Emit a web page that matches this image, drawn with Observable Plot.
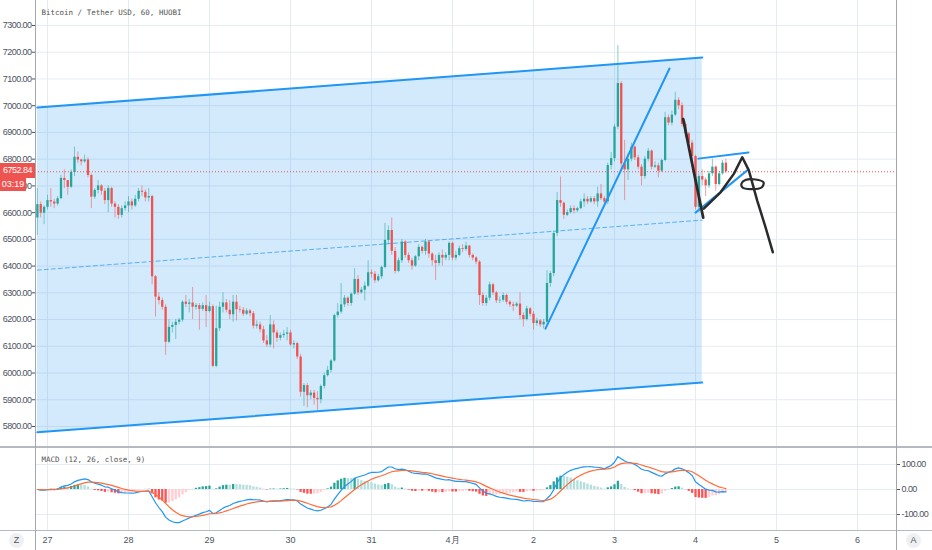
<!DOCTYPE html>
<html><head><meta charset="utf-8">
<script src="https://cdn.jsdelivr.net/npm/d3@7"></script>
<script src="https://cdn.jsdelivr.net/npm/@observablehq/plot@0.6"></script>
<style>
body{margin:0;background:#fff;}
#wrap{position:relative;width:932px;height:550px;overflow:hidden;font-family:"Liberation Sans",Arial,sans-serif;}
#wrap svg{display:block;}
.abs{position:absolute;}
</style></head><body><div id="wrap"></div>
<script>
// ---------- data ----------
const title = "Bitcoin / Tether USD, 60, HUOBI";
const macdTitle = "MACD (12, 26, close, 9)";
const firstCandle = "2020-03-26T21:00:00Z"; // hourly candles
const opens = [
6580,6630,6598,6620,6645,6640,6632,6652,6728,6720,
6695,6750,6807,6797,6790,6797,6739,6658,6683,6700,
6680,6645,6690,6632,6620,6590,6615,6625,6640,6625,
6650,6680,6676,6655,6660,6360,6284,6271,6246,6115,
6171,6178,6190,6198,6265,6257,6262,6246,6252,6238,
6252,6230,6248,6025,6166,6246,6262,6235,6218,6265,
6237,6235,6220,6232,6222,6175,6180,6162,6120,6105,
6180,6150,6130,6140,6145,6150,6105,6110,6060,5928,
5953,5915,5925,5905,5900,5950,5990,6010,6045,6215,
6228,6255,6280,6260,6295,6350,6300,6310,6325,6375,
6370,6345,6360,6395,6496,6533,6455,6380,6420,6490,
6440,6420,6400,6435,6470,6455,6490,6445,6420,6410,
6440,6430,6440,6485,6430,6440,6465,6462,6475,6440,
6430,6415,6290,6260,6280,6330,6300,6270,6272,6290,
6265,6255,6250,6258,6215,6200,6240,6220,6185,6195,
6180,6190,6335,6372,6522,6645,6635,6590,6600,6615,
6607,6615,6640,6650,6640,6652,6640,6670,6652,6640,
6776,6802,6920,7083,6782,6760,6800,6845,6805,6770,
6735,6800,6830,6770,6775,6755,6795,6955,6935,6965,
7020,7000,6930,6895,6860,6810,6620,6735,6722,6700,
6745,6770,6705,6745,6785];
const highs = [
6690,6640,6625,6665,6690,6650,6660,6740,6760,6720,
6760,6845,6827,6800,6815,6805,6745,6690,6720,6705,
6690,6700,6695,6640,6630,6625,6640,6660,6650,6665,
6690,6700,6685,6690,6665,6365,6300,6280,6255,6200,
6190,6200,6205,6270,6290,6275,6320,6260,6260,6262,
6290,6265,6255,6250,6265,6300,6275,6270,6290,6290,
6250,6245,6240,6238,6230,6195,6190,6175,6140,6215,
6195,6160,6150,6160,6170,6160,6120,6115,6070,5960,
5960,5935,5935,5930,5955,6000,6025,6050,6220,6260,
6335,6290,6285,6300,6390,6365,6320,6340,6420,6385,
6380,6370,6400,6560,6550,6580,6470,6430,6500,6495,
6450,6430,6440,6480,6475,6500,6495,6450,6440,6450,
6460,6450,6490,6490,6455,6475,6480,6490,6478,6445,
6435,6420,6300,6290,6340,6335,6305,6285,6300,6295,
6270,6265,6265,6300,6225,6250,6245,6230,6205,6200,
6200,6383,6380,6530,6675,6733,6640,6610,6625,6625,
6620,6650,6670,6660,6660,6660,6695,6705,6660,6785,
6825,6930,7225,7090,6870,6820,6860,6850,6815,6780,
6810,6840,6835,6790,6785,6800,6975,6965,6980,7050,
7030,7010,6940,6900,6870,6815,6745,6760,6730,6755,
6800,6775,6755,6795,6800];
const lows = [
6515,6580,6555,6610,6620,6615,6625,6650,6690,6665,
6690,6735,6785,6775,6785,6730,6615,6650,6670,6665,
6630,6600,6620,6580,6575,6580,6605,6600,6610,6620,
6640,6660,6640,6640,6330,6209,6255,6235,6066,6110,
6150,6125,6180,6190,6245,6225,6200,6235,6160,6230,
6170,6225,6020,6020,6155,6225,6225,6200,6190,6195,
6225,6212,6215,6210,6165,6165,6150,6110,6095,6095,
6090,6115,6120,6130,6120,6100,6090,6050,5910,5875,
5870,5900,5880,5860,5885,5940,5985,6000,6040,6205,
6220,6245,6250,6250,6290,6290,6295,6270,6320,6355,
6335,6340,6350,6390,6480,6440,6370,6375,6410,6430,
6410,6385,6395,6420,6445,6440,6430,6400,6346,6400,
6400,6420,6420,6420,6420,6435,6450,6455,6430,6420,
6405,6253,6250,6250,6270,6290,6260,6260,6265,6255,
6245,6230,6245,6200,6172,6195,6210,6160,6175,6170,
6165,6180,6320,6360,6510,6620,6575,6585,6595,6595,
6600,6610,6620,6630,6635,6630,6620,6645,6630,6630,
6760,6790,6910,6760,6645,6720,6790,6795,6760,6700,
6725,6790,6760,6765,6730,6750,6790,6925,6925,6960,
6985,6920,6880,6840,6790,6610,6600,6700,6660,6690,
6735,6680,6700,6740,6745];
const closes = [
6630,6598,6620,6645,6640,6632,6652,6728,6720,6695,
6750,6807,6797,6790,6797,6739,6658,6683,6700,6680,
6645,6690,6632,6620,6590,6615,6625,6640,6625,6650,
6680,6676,6655,6660,6360,6284,6271,6246,6115,6171,
6178,6190,6198,6265,6257,6262,6246,6252,6238,6252,
6230,6248,6025,6166,6246,6262,6235,6218,6265,6237,
6235,6220,6232,6222,6175,6180,6162,6120,6105,6180,
6150,6130,6140,6145,6150,6105,6110,6060,5928,5953,
5915,5925,5905,5900,5950,5990,6010,6045,6215,6228,
6255,6280,6260,6295,6350,6300,6310,6325,6375,6370,
6345,6360,6395,6496,6533,6455,6380,6420,6490,6440,
6420,6400,6435,6470,6455,6490,6445,6420,6410,6440,
6430,6440,6485,6430,6440,6465,6462,6475,6440,6430,
6415,6290,6260,6280,6330,6300,6270,6272,6290,6265,
6255,6250,6258,6215,6200,6240,6220,6185,6195,6180,
6190,6335,6372,6522,6645,6635,6590,6600,6615,6607,
6615,6640,6650,6640,6652,6640,6670,6652,6640,6776,
6802,6920,7083,6782,6760,6800,6845,6805,6770,6735,
6800,6830,6770,6775,6755,6795,6955,6935,6965,7020,
7000,6930,6895,6860,6810,6620,6735,6722,6700,6745,
6770,6705,6745,6785,6752.84];
const countdown = "03:19";

// price axis ticks & date ticks
const priceTicks = [5800,5900,6000,6100,6200,6300,6400,6500,6600,6700,6800,6900,7000,7100,7200,7300];
const macdTicks = [-100, 0, 100];
const dayTickDates = ["2020-03-27","2020-03-28","2020-03-29","2020-03-30","2020-03-31","2020-04-01","2020-04-02","2020-04-03","2020-04-04","2020-04-05","2020-04-06"];
const dayLabels = ["27","28","29","30","31","4月","2","3","4","5","6"];
const viewRange = ["2020-03-26T20:27:00Z","2020-04-06T11:33:00Z"];

// drawings
const channelTimes = ["2020-03-26T21:00:00Z","2020-04-04T02:00:00Z"];
const channelUpper = [6993, 7180];
const channelLower = [5778, 5965];
const channelMid = [6385, 6572];
const riseTimes = ["2020-04-02T03:33:00Z","2020-04-03T16:18:00Z"];
const risePrices = [6166, 7139];
const triUpperTimes = ["2020-04-04T00:53:00Z","2020-04-04T15:42:00Z"];
const triUpperPrices = [6802, 6825];
const triLowerTimes = ["2020-04-04T00:00:00Z","2020-04-04T15:19:00Z"];
const triLowerPrices = [6600, 6758];
const pen1Times = ["2020-04-03T20:21:00Z","2020-04-03T23:01:00Z","2020-04-04T02:17:00Z"];
const pen1Prices = [6950, 6783, 6581];
const pen2Times = ["2020-04-04T02:27:00Z","2020-04-04T07:25:00Z","2020-04-04T11:21:00Z","2020-04-04T13:51:00Z","2020-04-04T15:48:00Z","2020-04-04T18:17:00Z","2020-04-04T20:44:00Z","2020-04-04T22:54:00Z"];
const pen2Prices = [6615, 6676, 6745, 6807, 6758, 6645, 6546, 6452];
const loopTimes = ["2020-04-04T13:38:00Z","2020-04-04T14:48:00Z","2020-04-04T17:47:00Z","2020-04-04T20:10:00Z","2020-04-04T19:34:00Z","2020-04-04T16:18:00Z","2020-04-04T13:55:00Z"];
const loopPrices = [6709, 6722, 6724, 6713, 6694, 6688, 6694];

// ---------- build ----------
const UP = "#26a69a", DOWN = "#ef5350", BLUE = "#2196f3", GRID = "#e6ebf2";
const t0 = new Date(firstCandle);
const candles = closes.map((c, i) => ({
  t: new Date(+t0 + i * 3600e3), o: opens[i], h: highs[i], l: lows[i], c,
  col: c >= opens[i] ? UP : DOWN
}));
const pts = (ts, ps) => ts.map((t, i) => ({t: new Date(t), p: ps[i]}));
const channel = channelTimes.map((t, i) => ({t: new Date(t), hi: channelUpper[i], lo: channelLower[i], mid: channelMid[i]}));
const dayTicks = dayTickDates.map(d => new Date(d + "T00:00:00Z"));
const labelMap = new Map(dayTicks.map((d, i) => [+d, dayLabels[i]]));
const xDomain = viewRange.map(d => new Date(d));
const last = candles[candles.length - 1];

// MACD(12, 26, close, 9) from closes
function ema(arr, n) { const k = 2 / (n + 1); let prev = arr[0]; return arr.map(v => (prev = v * k + prev * (1 - k))); }
const e12 = ema(closes, 12), e26 = ema(closes, 26);
const macd = e12.map((v, i) => v - e26[i]);
const signal = ema(macd, 9);
const macdData = candles.map((d, i) => {
  const h = macd[i] - signal[i];
  const ph = i ? macd[i - 1] - signal[i - 1] : h;
  const col = h >= 0 ? (h >= ph ? "#26a69a" : "#b2dfdb") : (h <= ph ? "#ff5252" : "#ffcdd2");
  return {t: d.t, m: macd[i], s: signal[i], h, col};
});

const font = "'Liberation Sans',Arial,sans-serif";
const mono = "'DejaVu Sans Mono','Liberation Mono',monospace";

const main = Plot.plot({
  width: 932, height: 447,
  marginLeft: 35, marginRight: 36, marginTop: 0, marginBottom: 0,
  style: {fontFamily: font, fontSize: "9px", color: "#4c525e", background: "transparent", overflow: "visible"},
  x: {type: "utc", domain: xDomain, axis: null},
  y: {domain: [5721.4, 7393.5], ticks: priceTicks, tickFormat: d => d.toFixed(2), tickSize: 3, tickPadding: 1, label: null},
  color: {type: "identity"},
  marks: [
    Plot.ruleY(priceTicks, {stroke: GRID, strokeWidth: 1}),
    Plot.ruleX(dayTicks, {stroke: GRID, strokeWidth: 1}),
    Plot.areaY(channel, {x: "t", y1: "lo", y2: "hi", fill: BLUE, fillOpacity: 0.2}),
    Plot.line(channel, {x: "t", y: "hi", stroke: BLUE, strokeWidth: 2}),
    Plot.line(channel, {x: "t", y: "lo", stroke: BLUE, strokeWidth: 2}),
    Plot.line(channel, {x: "t", y: "mid", stroke: BLUE, strokeWidth: 1, strokeDasharray: "4,3", strokeOpacity: 0.7}),
    Plot.ruleX(candles, {x: "t", y1: "l", y2: "h", stroke: "col", strokeWidth: 1, strokeOpacity: 0.55}),
    Plot.ruleX(candles, {x: "t", y1: "o", y2: "c", stroke: "col", strokeWidth: 2.3}),
    Plot.ruleY([last.c], {stroke: DOWN, strokeWidth: 1, strokeDasharray: "1,2"}),
    Plot.line(pts(riseTimes, risePrices), {x: "t", y: "p", stroke: BLUE, strokeWidth: 2}),
    Plot.line(pts(triUpperTimes, triUpperPrices), {x: "t", y: "p", stroke: BLUE, strokeWidth: 2}),
    Plot.line(pts(triLowerTimes, triLowerPrices), {x: "t", y: "p", stroke: BLUE, strokeWidth: 2}),
    Plot.line(pts(pen1Times, pen1Prices), {x: "t", y: "p", stroke: "#2b2b2b", strokeWidth: 2.8, curve: "catmull-rom", strokeLinecap: "round"}),
    Plot.line(pts(pen2Times, pen2Prices), {x: "t", y: "p", stroke: "#2b2b2b", strokeWidth: 2.5, strokeLinecap: "round", strokeLinejoin: "round"}),
    Plot.line(pts(loopTimes, loopPrices), {x: "t", y: "p", stroke: "#2b2b2b", strokeWidth: 2.2, curve: "catmull-rom-closed"}),
    Plot.text([title], {frameAnchor: "top-left", dx: 6, dy: 9, text: d => d, fontFamily: mono, fontSize: 7.5, fill: "#555", textAnchor: "start"})
  ]
});

const lower = Plot.plot({
  width: 932, height: 103,
  marginLeft: 35, marginRight: 36, marginTop: 0, marginBottom: 20,
  style: {fontFamily: font, fontSize: "9px", color: "#4c525e", background: "transparent", overflow: "visible"},
  x: {type: "utc", domain: xDomain, ticks: dayTicks, tickFormat: d => labelMap.get(+d), tickSize: 0, tickPadding: 6, label: null},
  y: {domain: [-164, 168], axis: "right", ticks: macdTicks, tickFormat: d => d.toFixed(2), tickSize: 3, tickPadding: 2, label: null},
  color: {type: "identity"},
  marks: [
    Plot.ruleY(macdTicks, {stroke: GRID}),
    Plot.ruleX(dayTicks, {stroke: GRID}),
    Plot.ruleX(macdData, {x: "t", y1: 0, y2: "h", stroke: "col", strokeWidth: 2.3}),
    Plot.line(macdData, {x: "t", y: "m", stroke: BLUE, strokeWidth: 1.2, clip: true}),
    Plot.line(macdData, {x: "t", y: "s", stroke: "#ff6d3a", strokeWidth: 1.2, clip: true}),
    Plot.text([macdTitle], {frameAnchor: "top-left", dx: 6, dy: 9, text: d => d, fontFamily: mono, fontSize: 7.5, fill: "#555", textAnchor: "start"})
  ]
});

// tighten the scale labels so they fit the narrow side scales
[main, lower].forEach(svg => svg.querySelectorAll("text").forEach(t => {
  if (/^-?\d+\.00$/.test(t.textContent)) t.style.letterSpacing = "-0.55px";
}));

const wrap = document.getElementById("wrap");
wrap.appendChild(main);
wrap.appendChild(lower);

function box(css, text) {
  const d = document.createElement("div");
  d.className = "abs";
  d.style.cssText = css;
  if (text) d.textContent = text;
  wrap.appendChild(d);
  return d;
}
// panel borders
box("left:0;top:446px;width:932px;height:2px;background:#b6b9c1;");
box("left:0;top:529.5px;width:932px;height:1.5px;background:#b6b9c1;");
box("left:34.5px;top:0;width:1.5px;height:550px;background:#a3a6ae;");
box("left:895.5px;top:0;width:1.5px;height:550px;background:#a3a6ae;");
// current price label, positioned through the y scale
const py = main.scale("y").apply(last.c);
box(`left:0;top:${py - 8}px;width:35px;height:15px;background:${DOWN};color:#fff;font:9px ${font};letter-spacing:-0.5px;line-height:15px;text-align:center;`, last.c.toFixed(2));
box(`left:0;top:${py + 7}px;width:26px;height:13px;background:${DOWN};color:#fff;font:9px ${font};line-height:13px;text-align:center;`, countdown);
// corner buttons
box(`left:9px;top:533px;width:15px;height:15px;border-radius:50%;background:#eef0f4;color:#555;font:9px ${font};line-height:15px;text-align:center;`, "Z");
box(`left:906px;top:533px;width:15px;height:15px;border-radius:50%;background:#eef0f4;color:#555;font:9px ${font};line-height:15px;text-align:center;`, "A");
</script></body></html>
